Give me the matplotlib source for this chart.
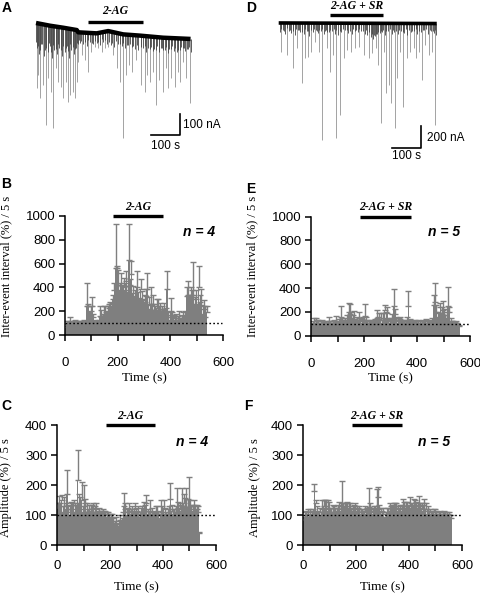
import numpy as np
import matplotlib
matplotlib.use('Agg')
import matplotlib.pyplot as plt

plt.rcParams['font.family'] = ['Liberation Sans', 'DejaVu Sans']
W, H = 480, 593
GRAY = '#7f7f7f'
SERIF = 'Liberation Serif'

# ---------------- traces (A, D) ----------------
# baseline current (nA) vs time (s)
A_base_t = [0, 48, 95, 141, 146, 210, 250, 302, 360, 440, 535]
A_base_i = [0, -13, -23, -34, -45, -50, -39, -55, -61, -71, -77]
# large events: time (s), peak current (nA)
A_ev_t = [2, 8, 14, 23, 35, 43, 51, 60, 69, 77, 85, 95, 104, 112, 118, 127, 135, 141, 146,
          158, 169, 181, 192, 204, 216, 227, 239, 250, 267, 281, 290, 302, 313, 323, 334, 346,
          365, 377, 385, 396, 406, 415, 427, 438, 450, 458, 469, 481, 492, 500, 510, 519, 533]
A_ev_i = [-316, -251, -364, -300, -493, -267, -332, -509, -219, -283, -307, -364, -283, -380,
          -348, -332, -364, -283, -187,
          -155, -179, -235, -138, -114, -122, -138, -122, -114, -155, -219, -283, -557, -251,
          -203, -235, -179,
          -300, -332, -251, -283, -235, -396, -275, -332, -219, -316, -267, -307, -235, -283,
          -187, -267, -388]
# small events near the baseline
A_sm_t = [4, 11, 18, 27, 31, 40, 47, 55, 64, 73, 81, 89, 99, 108, 115, 122, 131, 138, 144,
          152, 163, 175, 187, 199, 210, 222, 233, 245, 258, 271, 284, 296, 308, 320, 331, 342,
          354, 370, 382, 393, 404, 416, 425, 436, 446, 456, 466, 477, 488, 498, 508, 517, 527, 536,
          1, 7, 15, 22, 35, 44, 51, 59, 68, 77, 85, 94, 103, 111, 119, 127, 134, 141,
          149, 157, 169, 181, 193, 204, 216, 227, 239, 251, 264, 277, 290, 302, 314, 326, 337, 348,
          362, 376, 387, 398, 410, 420, 431, 441, 451, 461, 471, 482, 493, 503, 512, 522, 531]
A_sm_i = [-120, -150, -100, -160, -130, -140, -110, -170, -130, -150, -120, -160, -140, -110,
          -170, -130, -150, -120, -100,
          -95, -100, -110, -90, -100, -95, -105, -90, -100, -105, -115, -100, -110, -120, -105,
          -115, -125,
          -130, -120, -140, -125, -135, -130, -140, -120, -130, -145, -125, -135, -140, -130,
          -120, -135, -125, -140,
          -90, -110, -130, -100, -120, -95, -140, -105, -125, -100, -130, -110, -120, -135,
          -100, -115, -125, -95,
          -80, -85, -90, -80, -95, -85, -90, -75, -80, -90, -95, -85, -100, -95, -105, -100,
          -110, -105,
          -115, -110, -120, -115, -125, -110, -120, -130, -115, -125, -110, -120, -130, -115,
          -120, -125, -115]

D_base_t = [0, 545]
D_base_i = [0, -5]
D_ev_t = [9, 29, 48, 63, 80, 92, 101, 113, 126, 138, 149, 167, 178, 187, 198, 213, 224, 236,
          250, 264, 278, 293, 310, 322, 335, 342, 352, 362, 371, 379, 388, 400, 408, 419, 429,
          442, 454, 465, 473, 483, 494, 506, 517, 529, 539]
D_ev_i = [-257, -287, -407, -227, -541, -317, -302, -257, -167, -257, -1050, -227, -437, -287,
          -1035, -825, -317, -242, -257, -227, -212, -287, -317, -272, -227, -377, -900, -257,
          -631, -556, -720, -945, -496, -257, -750, -317, -257, -227, -317, -257, -511, -197,
          -287, -257, -915]
D_sm_t = [3, 14, 22, 35, 42, 55, 68, 74, 86, 97, 106, 118, 127, 135, 145, 156, 163, 172, 184,
          193, 205, 216, 228, 240, 252, 262, 272, 284, 296, 306, 318, 326, 333, 340, 348, 357,
          366, 377, 389, 398, 410, 421, 433, 444, 455, 466, 478, 490, 502, 514, 525, 536, 542,
          7, 18, 28, 39, 50, 61, 71, 80, 91, 101, 112, 122, 131, 140, 151, 160, 168, 178, 189,
          199, 210, 222, 234, 246, 257, 267, 278, 290, 301, 312, 322, 330, 337, 344, 352, 361,
          371, 383, 394, 404, 415, 427, 438, 449, 460, 472, 484, 496, 508, 520, 531, 540]
D_sm_i = [-80, -60, -100, -70, -90, -110, -60, -85, -95, -70, -120, -80, -65, -90, -75, -100,
          -60, -85, -70, -95, -110, -80, -65, -90, -100, -70, -85, -75, -95, -110, -130, -140,
          -120, -100, -90, -80, -110, -70, -95, -85, -100, -75, -90, -105, -80, -70, -95, -85,
          -60, -100, -75, -90, -110,
          -50, -70, -45, -60, -75, -50, -65, -80, -55, -70, -60, -50, -75, -65, -55, -70, -80,
          -60, -50, -65, -75, -55, -60, -70, -50, -65, -55, -75, -60, -80, -100, -110, -95,
          -85, -70, -60, -75, -55, -65, -70, -60, -80, -55, -65, -75, -50, -70, -60, -55, -65,
          -70, -60]

# ---------------- 5 s bins (%), mean and SEM ----------------
B_mean = [60, 95, 100, 110, 100, 95, 100, 105, 95, 100, 98, 102,
          100, 98, 105, 100, 245, 240, 160, 200, 245, 150, 110, 100,
          100, 110, 160, 150, 140, 160, 165, 150, 200, 230, 260, 240,
          300, 380, 565, 560, 420, 380, 420, 350, 400, 380, 450, 360,
          630, 420, 510, 350, 280, 320, 400, 300, 260, 385, 300, 250,
          280, 330, 385, 260, 220, 250, 260, 210, 200, 230, 210, 200,
          220, 200, 180, 210, 200, 385, 150, 130, 200, 150, 140, 130,
          130, 120, 140, 110, 125, 135, 120, 150, 330, 340, 300, 340,
          320, 340, 260, 300, 200, 400, 280, 250, 180, 220, 150, 190]
B_sem = [15, 20, 15, 40, 20, 15, 15, 25, 15, 15, 15, 15,
         15, 15, 20, 15, 190, 20, 30, 40, 75, 30, 20, 15,
         15, 20, 85, 60, 40, 85, 80, 40, 40, 30, 20, 30,
         40, 60, 365, 20, 130, 60, 100, 60, 80, 60, 90, 50,
         300, 50, 113, 60, 50, 60, 140, 60, 50, 85, 70, 40,
         60, 60, 140, 60, 40, 150, 80, 50, 40, 70, 90, 40,
         50, 40, 40, 60, 30, 150, 40, 40, 115, 40, 30, 30,
         50, 40, 60, 30, 40, 55, 40, 50, 70, 110, 40, 60,
         60, 275, 60, 80, 60, 180, 60, 135, 60, 70, 95, 50]

E_mean = [85, 100, 105, 110, 100, 105, 95, 100, 110, 100, 95, 105,
          100, 110, 105, 95, 100, 110, 115, 100, 105, 110, 160, 120,
          110, 120, 105, 130, 200, 180, 150, 140, 125, 115, 130, 110,
          150, 120, 110, 130, 165, 130, 110, 105, 100, 110, 115, 105,
          120, 150, 130, 140, 130, 110, 150, 215, 140, 190, 120, 110,
          120, 140, 245, 180, 130, 110, 120, 140, 115, 105, 110, 110,
          130, 250, 120, 110, 105, 100, 110, 105, 100, 95, 100, 105,
          110, 100, 120, 105, 110, 100, 115, 120, 258, 285, 200, 160,
          150, 240, 180, 216, 170, 130, 150, 245, 200, 120, 100, 105,
          100, 105, 95, 80]
E_sem = [15, 20, 40, 35, 30, 25, 15, 20, 20, 15, 15, 20,
         20, 50, 20, 15, 20, 20, 50, 15, 20, 30, 85, 30,
         20, 30, 25, 45, 78, 85, 50, 30, 80, 25, 30, 20,
         50, 30, 30, 30, 100, 30, 20, 15, 20, 25, 20, 15,
         20, 65, 30, 50, 60, 20, 40, 45, 60, 50, 30, 25,
         30, 40, 148, 40, 30, 25, 30, 20, 20, 20, 15, 20,
         30, 126, 20, 20, 15, 15, 20, 20, 30, 15, 20, 15,
         20, 25, 20, 15, 20, 20, 20, 25, 84, 155, 60, 40,
         40, 32, 60, 76, 50, 40, 50, 162, 40, 30, 20, 15,
         15, 15, 10, 10]

C_mean = [120, 140, 100, 150, 110, 130, 120, 170, 110, 100, 130, 120,
          139, 110, 110, 217, 140, 120, 150, 110, 130, 139, 110, 100,
          115, 110, 105, 125, 110, 120, 100, 110, 105, 100, 110, 100,
          105, 95, 100, 85, 90, 95, 75, 70, 80, 65, 60, 85,
          70, 90, 130, 120, 100, 110, 115, 105, 110, 100, 120, 110,
          100, 110, 95, 105, 110, 120, 115, 139, 105, 100, 110, 105,
          95, 100, 110, 105, 100, 90, 105, 110, 120, 105, 95, 100,
          110, 155, 115, 105, 100, 110, 120, 125, 120, 115, 130, 140,
          128, 115, 125, 128, 130, 120, 110, 115, 105, 120, 110, 40]
C_sem = [20, 25, 40, 17, 20, 30, 20, 80, 25, 20, 15, 20,
         10, 30, 25, 100, 30, 40, 61, 20, 70, 15, 30, 20,
         20, 25, 30, 15, 20, 20, 15, 15, 10, 15, 10, 15,
         10, 15, 10, 20, 15, 10, 15, 10, 15, 10, 10, 15,
         15, 20, 45, 20, 20, 15, 25, 15, 20, 15, 20, 15,
         15, 20, 15, 20, 20, 25, 20, 28, 15, 15, 40, 20,
         15, 15, 20, 25, 15, 15, 45, 20, 30, 20, 15, 20,
         20, 53, 20, 15, 20, 20, 70, 20, 20, 20, 60, 30,
         30, 74, 30, 100, 20, 15, 25, 35, 30, 15, 20, 5]

F_mean = [80, 95, 100, 105, 95, 110, 100, 105, 180, 140, 110, 100,
          110, 100, 120, 130, 125, 130, 115, 120, 110, 105, 110, 110,
          105, 110, 115, 120, 110, 139, 125, 130, 120, 130, 125, 120,
          110, 115, 120, 130, 115, 110, 120, 105, 110, 100, 115, 105,
          110, 128, 120, 110, 105, 115, 110, 125, 161, 120, 110, 105,
          110, 85, 95, 110, 105, 115, 110, 120, 130, 125, 120, 115,
          110, 120, 115, 130, 125, 120, 125, 115, 130, 120, 125, 130,
          135, 125, 120, 130, 120, 125, 115, 140, 120, 105, 115, 110,
          105, 100, 110, 100, 105, 95, 100, 105, 95, 100, 105, 100,
          100, 95, 100, 90]
F_sem = [10, 15, 15, 15, 10, 10, 15, 15, 25, 10, 20, 15,
         15, 10, 30, 20, 25, 20, 35, 25, 15, 20, 25, 20,
         20, 15, 20, 25, 20, 75, 15, 10, 20, 15, 15, 20,
         15, 15, 15, 10, 15, 15, 10, 15, 10, 15, 15, 15,
         15, 61, 20, 15, 15, 15, 20, 63, 33, 15, 15, 10,
         15, 10, 10, 15, 20, 25, 20, 15, 10, 15, 20, 15,
         15, 15, 20, 25, 20, 25, 20, 20, 30, 20, 15, 25,
         15, 20, 20, 35, 20, 15, 20, 15, 20, 15, 15, 10,
         10, 10, 10, 20, 10, 10, 10, 10, 10, 10, 10, 10,
         10, 10, 10, 10]


def px_axes(fig, x0, y0, x1, y1):
    return fig.add_axes([x0 / W, 1 - y1 / H, (x1 - x0) / W, (y1 - y0) / H])


def draw_trace(ax, base_t, base_i, ev_t, ev_i, sm_t, sm_i, base_lw):
    ax.vlines(ev_t, np.interp(ev_t, base_t, base_i), ev_i, color='#9c9c9c', lw=0.65)
    ax.vlines(sm_t, np.interp(sm_t, base_t, base_i), sm_i, color='#404040', lw=0.6)
    ax.plot(base_t, base_i, color='black', lw=base_lw, solid_capstyle='butt')
    ax.axis('off')


def draw_hist(ax, mean, sem, ymax, ystep, drug, drug_label, n_label, n_xy, ylabel, ylab_xy,
              xpad, xlab_y):
    mean = np.asarray(mean, dtype=float)
    left = np.arange(len(mean)) * 5.0
    # slightly wider than the bin so neighbouring bars leave no hairline gaps
    ax.bar(left, mean, width=5.5, align='edge', color=GRAY, lw=0)
    ax.errorbar(left + 2.5, mean, yerr=[np.zeros(len(mean)), sem], fmt='none',
                ecolor=GRAY, elinewidth=1.0, capsize=2.2, capthick=1.0)
    ax.plot([0, 595], [100, 100], color='black', lw=1.0, ls=(0, (1.2, 1.6)))
    ax.plot(drug, [ymax, ymax], color='black', lw=2.4, clip_on=False, solid_capstyle='butt')
    ax.annotate(drug_label, (sum(drug) / 2, ymax), xytext=(0, 2.5), textcoords='offset points',
                ha='center', va='bottom', fontsize=8.5, family=SERIF,
                fontweight='bold', fontstyle='italic')
    ax.text(n_xy[0], n_xy[1], n_label, ha='center', va='center', fontsize=10,
            fontweight='bold', fontstyle='italic')
    ax.set_xlim(0, 600)
    ax.set_ylim(0, ymax)
    ax.set_xticks(np.arange(0, 601, 100))
    ax.set_xticklabels(['0', '', '200', '', '400', '', '600'])
    ax.set_yticks(np.arange(0, ymax + 1, ystep))
    for s in ['top', 'right']:
        ax.spines[s].set_visible(False)
    for s in ['left', 'bottom']:
        ax.spines[s].set_linewidth(1.1)
    ax.tick_params(axis='both', direction='out', length=4, width=1.1, labelsize=9.5)
    ax.tick_params(axis='x', pad=xpad)
    ax.tick_params(axis='y', pad=3)
    ax.set_xlabel('Time (s)', family=SERIF, fontsize=9.5)
    ax.xaxis.set_label_coords(0.5, xlab_y)
    ax.set_ylabel(ylabel, family=SERIF, fontsize=9)
    ax.yaxis.set_label_coords(*ylab_xy)


fig = plt.figure(figsize=(W / 100, H / 100), dpi=100)

# A
axA = px_axes(fig, 30, 0, 200, 152)
draw_trace(axA, A_base_t, A_base_i, A_ev_t, A_ev_i, A_sm_t, A_sm_i, 3.2)
axA.set_xlim(-20.8, 567.7)
axA.set_ylim(-623, 111)
axA.plot([180, 370], [5, 5], color='black', lw=2.4, solid_capstyle='butt')
axA.text(275, 58, '2-AG', ha='center', va='center', fontsize=8.5, family=SERIF,
         fontweight='bold', fontstyle='italic')
axA.plot([398.5, 498.5, 498.5], [-541, -541, -440], color='black', lw=1.2)
axA.text(509, -492, '100 nA', ha='left', va='center', fontsize=8.5)
axA.text(449, -592, '100 s', ha='center', va='center', fontsize=8.5)

# D
axD = px_axes(fig, 272, 0, 442, 152)
draw_trace(axD, D_base_t, D_base_i, D_ev_t, D_ev_i, D_sm_t, D_sm_i, 2.6)
axD.set_xlim(-23.1, 563.1)
axD.set_ylim(-1157, 206)
axD.plot([177, 360], [72, 72], color='black', lw=2.4, solid_capstyle='butt')
axD.text(268, 152, '2-AG + SR', ha='center', va='center', fontsize=8.5, family=SERIF,
         fontweight='bold', fontstyle='italic')
axD.plot([390.7, 490.7, 490.7], [-1121, -1121, -924], color='black', lw=1.2)
axD.text(510, -1029, '200 nA', ha='left', va='center', fontsize=8.5)
axD.text(441, -1193, '100 s', ha='center', va='center', fontsize=8.5)

# B, E, C, F
axB = px_axes(fig, 65, 216, 223, 335)
draw_hist(axB, B_mean, B_sem, 1000, 200, [181, 373], '2-AG', 'n = 4', (509, 866),
          'Inter-event interval (%) / 5 s', (-0.335, 0.58), 12, -0.31)
axE = px_axes(fig, 311, 216.5, 470, 335.7)
draw_hist(axE, E_mean, E_sem, 1000, 200, [185, 377], '2-AG + SR', 'n = 5', (502, 866),
          'Inter-event interval (%) / 5 s', (-0.33, 0.58), 12, -0.31)
axC = px_axes(fig, 57, 425, 216, 545)
draw_hist(axC, C_mean, C_sem, 400, 100, [184, 371], '2-AG', 'n = 4', (509, 343),
          'Amplitude (%) / 5 s', (-0.286, 0.48), 7, -0.30)
axF = px_axes(fig, 303, 425, 462, 545)
draw_hist(axF, F_mean, F_sem, 400, 100, [184, 374], '2-AG + SR', 'n = 5', (494, 343),
          'Amplitude (%) / 5 s', (-0.267, 0.48), 7, -0.30)

for lab, x, y in [('A', 6.5, 8.5), ('B', 6.5, 184), ('C', 6.5, 406.5),
                  ('D', 251, 8), ('E', 251, 189), ('F', 248, 406.5)]:
    fig.text(x / W, 1 - y / H, lab, ha='center', va='center', fontsize=10, fontweight='bold')

fig.savefig('out.png', dpi=100)
